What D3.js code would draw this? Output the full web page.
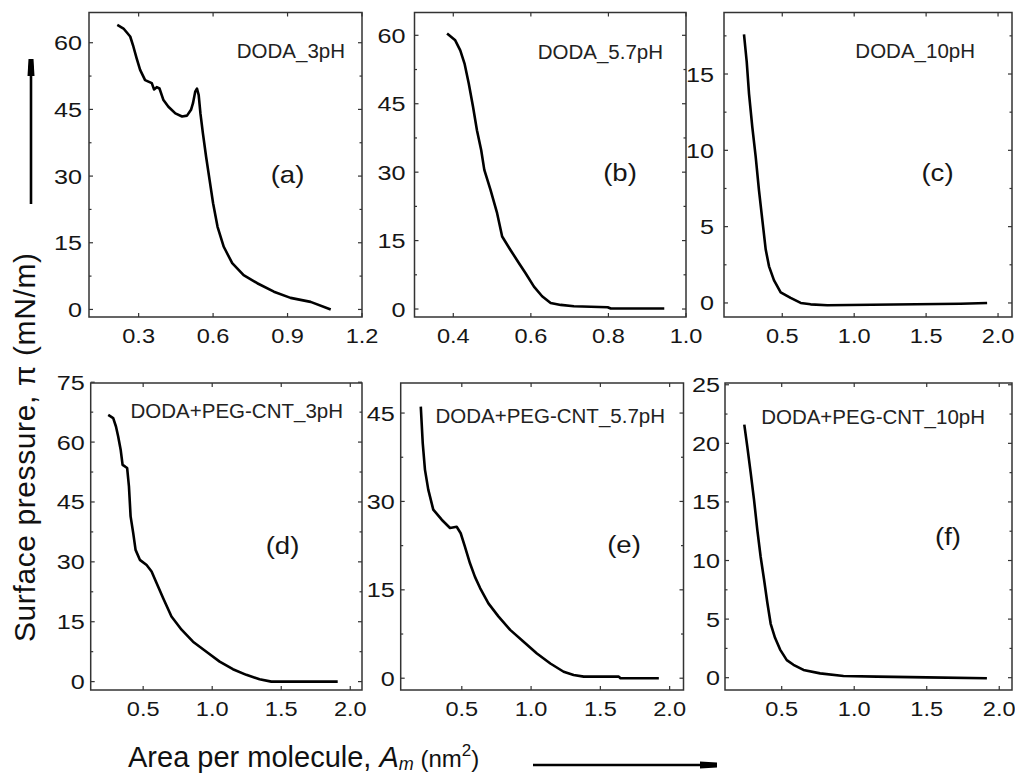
<!DOCTYPE html>
<html>
<head>
<meta charset="utf-8">
<script src="https://cdn.jsdelivr.net/npm/d3@7"></script>
<style>
  body { margin: 0; background: #fff; }
  svg { display: block; }
</style>
</head>
<body>
<svg id="chart" width="1015" height="775"></svg>
<script>
// ---- Surface pressure isotherms (area per molecule, nm^2  vs  pi, mN/m) ----
const areaA = [0.214,0.239,0.266,0.279,0.292,0.306,0.326,0.353,0.362,0.373,0.384,0.400,0.420,0.448,0.475,0.495,0.511,0.519,0.528,0.535,0.542,0.549,0.559,0.572,0.586,0.600,0.618,0.643,0.677,0.723,0.778,0.845,0.912,0.993,1.074];
const pressureA = [64.0,63.2,61.4,59.1,56.5,53.9,51.6,50.9,49.5,50.0,49.7,47.1,45.6,44.1,43.4,43.6,44.9,46.4,49.0,49.7,48.2,44.1,39.6,34.3,29.1,23.9,18.6,14.1,10.4,7.7,5.9,4.0,2.6,1.7,0.0];

const areaB = [0.384,0.405,0.418,0.429,0.440,0.451,0.461,0.472,0.480,0.496,0.513,0.526,0.547,0.569,0.586,0.608,0.629,0.651,0.677,0.711,0.798,0.806,0.944];
const pressureB = [60.4,58.9,56.7,53.8,49.4,44.3,39.2,34.8,30.5,26.1,21.0,15.9,13.0,10.1,7.9,4.9,2.8,1.3,0.9,0.6,0.4,0.1,0.1];

const areaC = [0.234,0.253,0.269,0.292,0.315,0.338,0.362,0.385,0.408,0.442,0.489,0.558,0.628,0.697,0.813,1.276,1.739,1.924];
const pressureC = [17.6,15.8,13.7,11.5,9.6,7.4,5.4,3.5,2.4,1.5,0.7,0.33,0.0,-0.09,-0.15,-0.1,-0.05,0.0];

const areaD = [0.247,0.283,0.303,0.319,0.337,0.351,0.368,0.384,0.397,0.409,0.428,0.445,0.476,0.525,0.561,0.597,0.645,0.705,0.778,0.861,0.958,1.054,1.150,1.247,1.343,1.428,1.909];
const pressureD = [66.8,66.0,63.9,61.4,58.1,54.3,53.9,53.5,48.9,41.4,37.2,33.0,30.5,29.2,27.6,24.7,20.9,16.3,13.0,10.0,7.5,5.0,3.1,1.7,0.6,0.0,0.0];

const areaE = [0.204,0.218,0.234,0.258,0.294,0.355,0.415,0.463,0.492,0.523,0.559,0.595,0.632,0.692,0.764,0.849,0.946,1.042,1.139,1.235,1.307,1.380,1.633,1.645,1.922];
const pressureE = [46.1,39.9,35.4,32.0,28.6,26.9,25.5,25.7,24.6,22.3,19.5,17.2,15.3,12.7,10.5,8.2,6.2,4.2,2.5,1.1,0.56,0.27,0.27,0.0,0.0];

const areaF = [0.242,0.263,0.286,0.309,0.332,0.355,0.378,0.401,0.424,0.454,0.489,0.535,0.581,0.650,0.765,0.926,1.156,1.501,1.915];
const pressureF = [21.6,19.7,17.5,15.2,12.6,10.3,8.4,6.4,4.6,3.4,2.4,1.5,1.1,0.66,0.37,0.15,0.09,0.03,-0.05];

// ---- tick values ----
const xTicksA = [0.3, 0.6, 0.9, 1.2];
const xTicksB = [0.4, 0.6, 0.8, 1.0];
const xTicksWide = [0.5, 1.0, 1.5, 2.0];
const yTicks60 = [0, 15, 30, 45, 60];
const yTicks15 = [0, 5, 10, 15];
const yTicks75 = [0, 15, 30, 45, 60, 75];
const yTicks45 = [0, 15, 30, 45];
const yTicks25 = [0, 5, 10, 15, 20, 25];

const titles = ["DODA_3pH", "DODA_5.7pH", "DODA_10pH",
                "DODA+PEG-CNT_3pH", "DODA+PEG-CNT_5.7pH", "DODA+PEG-CNT_10pH"];
const letters = ["(a)", "(b)", "(c)", "(d)", "(e)", "(f)"];

// ---- panel geometry and axis ranges ----
const panels = [
  { box: [89, 362, 12.5, 317],    xd: [0.1, 1.2],     yd: [-1.7, 66.8],  xt: xTicksA,    yt: yTicks60, yMinor: 7.5,
    xs: areaA, ys: pressureA, titleEnd: 345, titleY: 58, letterX: 287.5, letterY: 183, gap: 7 },
  { box: [414.5, 686, 12.5, 317], xd: [0.3, 1.0],     yd: [-1.75, 65],   xt: xTicksB,    yt: yTicks60, yMinor: 7.5,
    xs: areaB, ys: pressureB, titleEnd: 663, titleY: 58.5, letterX: 620, letterY: 181, gap: 9 },
  { box: [724, 1012, 12.5, 317],  xd: [0.095, 2.097], yd: [-0.92, 19.03], xt: xTicksWide, yt: yTicks15, yMinor: 2.5,
    xs: areaC, ys: pressureC, titleEnd: 975, titleY: 58, letterX: 937.5, letterY: 181, gap: 10 },
  { box: [90.7, 362, 383, 690],   xd: [0.12, 2.085],  yd: [-2.1, 74.8],  xt: xTicksWide, yt: yTicks75, yMinor: 7.5,
    xs: areaD, ys: pressureD, titleEnd: 343, titleY: 418, letterX: 282.5, letterY: 554, gap: 6 },
  { box: [400.7, 683.5, 383, 690], xd: [0.059, 2.1],  yd: [-2.0, 50.1],  xt: xTicksWide, yt: yTicks45, yMinor: 7.5,
    xs: areaE, ys: pressureE, titleEnd: 665, titleY: 423, letterX: 624, letterY: 553, gap: 6 },
  { box: [725, 1012, 383, 690],   xd: [0.109, 2.088], yd: [-1.05, 25.15], xt: xTicksWide, yt: yTicks25, yMinor: 2.5,
    xs: areaF, ys: pressureF, titleEnd: 985, titleY: 424, letterX: 948, letterY: 545, gap: 5 }
];

const FONT = "'Liberation Sans', Arial, Helvetica, sans-serif";
const svg = d3.select("#chart");
const fmtX = d3.format(".1f");

// stretched text helper (tick labels are drawn slightly wide)
function stretchedText(g, x, y, str, size, sx, anchor) {
  return g.append("text")
    .attr("transform", `translate(${x},${y}) scale(${sx},1)`)
    .attr("text-anchor", anchor)
    .attr("font-family", FONT)
    .attr("font-size", size)
    .attr("fill", "#161616")
    .text(str);
}

panels.forEach((p, i) => {
  const [L, R, T, B] = p.box;
  const x = d3.scaleLinear().domain(p.xd).range([L, R]);
  const y = d3.scaleLinear().domain(p.yd).range([B, T]);
  const g = svg.append("g");

  // minor y positions
  const yMinor = d3.range(p.yt[0] + p.yMinor, p.yd[1], p.yMinor * 2).filter(v => v < p.yd[1]);

  // inward ticks on all four sides
  const tickG = g.append("g").attr("stroke", "#333").attr("stroke-width", 1.2);
  p.xt.forEach(v => {
    const px = x(v);
    tickG.append("line").attr("x1", px).attr("x2", px).attr("y1", B).attr("y2", B - 4);
    tickG.append("line").attr("x1", px).attr("x2", px).attr("y1", T).attr("y2", T + 4);
  });
  p.yt.forEach(v => {
    const py = y(v);
    tickG.append("line").attr("x1", L).attr("x2", L + 4).attr("y1", py).attr("y2", py);
    tickG.append("line").attr("x1", R).attr("x2", R - 4).attr("y1", py).attr("y2", py);
  });
  yMinor.forEach(v => {
    const py = y(v);
    tickG.append("line").attr("x1", L).attr("x2", L + 2.5).attr("y1", py).attr("y2", py);
    tickG.append("line").attr("x1", R).attr("x2", R - 2.5).attr("y1", py).attr("y2", py);
  });

  // frame
  g.append("rect")
    .attr("x", L).attr("y", T).attr("width", R - L).attr("height", B - T)
    .attr("fill", "none").attr("stroke", "#333").attr("stroke-width", 1.5);

  // tick labels
  p.xt.forEach(v => stretchedText(g, x(v), B + 26, fmtX(v), 20.5, 1.15, "middle"));
  p.yt.forEach(v => stretchedText(g, L - p.gap, y(v) + 7.5, String(v), 21, 1.2, "end"));

  // isotherm
  const pts = p.xs.map((a, k) => [a, p.ys[k]]);
  g.append("path")
    .datum(pts)
    .attr("fill", "none")
    .attr("stroke", "#000")
    .attr("stroke-width", 2.6)
    .attr("stroke-linejoin", "round")
    .attr("d", d3.line().x(d => x(d[0])).y(d => y(d[1])));

  // sample name and panel letter
  g.append("text")
    .attr("x", p.titleEnd).attr("y", p.titleY)
    .attr("text-anchor", "end")
    .attr("font-family", FONT).attr("font-size", 20.5).attr("fill", "#222")
    .text(titles[i]);
  stretchedText(g, p.letterX, p.letterY, letters[i], 24, 1.15, "middle");
});

// ---- axis titles ----
svg.append("text")
  .attr("transform", "translate(35,642) rotate(-90)")
  .attr("text-anchor", "start")
  .attr("font-family", FONT).attr("font-size", 30).attr("fill", "#111")
  .attr("textLength", 389).attr("lengthAdjust", "spacing")
  .text("Surface pressure, \u03C0 (mN/m)");

const xt = svg.append("text")
  .attr("x", 128).attr("y", 767)
  .attr("font-family", FONT).attr("font-size", 29).attr("fill", "#111");
xt.append("tspan").text("Area per molecule, ");
xt.append("tspan").attr("font-style", "italic").text("A");
xt.append("tspan").attr("font-style", "italic").attr("font-size", 18).attr("dy", 3).text("m");
xt.append("tspan").attr("font-size", 24).attr("dy", -3).text(" (nm");
xt.append("tspan").attr("font-size", 17).attr("dy", -11).text("2");
xt.append("tspan").attr("font-size", 24).attr("dy", 11).text(")");

// ---- direction arrows ----
svg.append("line").attr("x1", 31).attr("x2", 31).attr("y1", 204).attr("y2", 70)
  .attr("stroke", "#000").attr("stroke-width", 2.6);
svg.append("path").attr("d", "M27.5,76 L34.5,76 L33.5,59 L28.5,59 Z").attr("fill", "#000");

svg.append("line").attr("x1", 533).attr("x2", 705).attr("y1", 765).attr("y2", 765)
  .attr("stroke", "#000").attr("stroke-width", 2.6);
svg.append("path").attr("d", "M700,761.5 L700,768.5 L717,767.5 L717,762.5 Z").attr("fill", "#000");
</script>
</body>
</html>
